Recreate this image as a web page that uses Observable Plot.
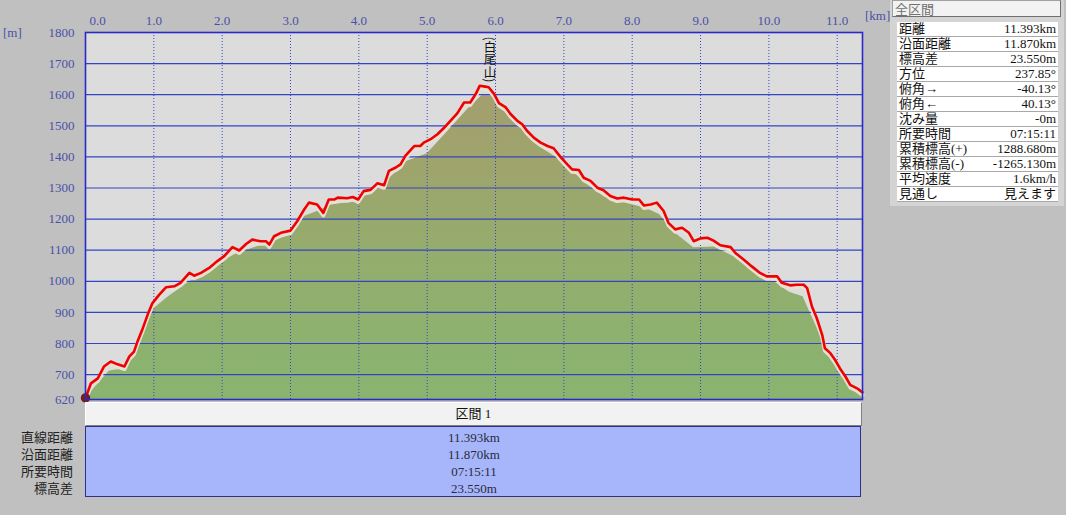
<!DOCTYPE html>
<html>
<head>
<meta charset="utf-8">
<script src="https://cdn.jsdelivr.net/npm/d3@7"></script>
<script src="https://cdn.jsdelivr.net/npm/@observablehq/plot@0.6"></script>
<style>
  html, body { margin: 0; padding: 0; }
  body { width: 1066px; height: 515px; background: #c0c0c0; position: relative; overflow: hidden;
         font-family: "Liberation Serif", "Noto Sans CJK JP", serif; }
  #chart { position: absolute; left: 0; top: 0; }
  .unit { position: absolute; color: #4a50a8; font-size: 13px; }
  #hdr { position: absolute; left: 85px; top: 402px; width: 775px; height: 22px; background: #f2f2f2;
         border-top: 1px solid #ffffff; border-left: 1px solid #ffffff; border-right: 1px solid #808080; border-bottom: 1px solid #808080;
         text-align: center; font-size: 13px; line-height: 22px; color: #111; }
  #tbl { position: absolute; left: 85px; top: 426px; width: 776px; height: 71px; background: #a7b6fb;
         border: 1px solid #30308a; box-sizing: border-box; }
  .tv { position: absolute; left: 0; width: 776px; text-align: center; font-size: 13px; color: #2a2a3a; line-height: 17px; }
  .tl { position: absolute; right: 993px; font-size: 13px; color: #222; line-height: 17px; font-family: "Noto Sans CJK JP", sans-serif; white-space: nowrap; }
  #panel { position: absolute; left: 890px; top: 0; width: 174px; height: 206px; background: #d4d4d4; }
  #ptitle { position: absolute; left: 2px; top: 0; width: 169px; height: 17px; background: #f2f2f2; border: 1px solid #a0a0a0;
            border-right-color: #707070; border-bottom-color: #707070; box-sizing: border-box;
            font-size: 13px; line-height: 15px; color: #707070; padding-left: 2px; font-family: "Noto Sans CJK JP", sans-serif; }
  #ptable { position: absolute; left: 7px; top: 22px; width: 161px; border-collapse: collapse; background: #fff; }
  #ptable td { height: 14px; padding: 0 2px; font-size: 13px; line-height: 14px; color: #111; border-bottom: 1px solid #a8a8a8; white-space: nowrap; }
  #ptable td.v { text-align: right; }
</style>
</head>
<body>
<div id="chart"></div>
<div class="unit" style="left:3px; top:25px;">[m]</div>
<div class="unit" style="left:865px; top:8px;">[km]</div>
<div id="hdr"></div>
<div id="tbl"></div>
<div id="panel"><div id="ptitle"></div><table id="ptable"></table></div>
<script>
// ---- data ----
const trackKm = [0, 0.08, 0.18, 0.27, 0.37, 0.47, 0.57, 0.64, 0.71, 0.76, 0.83, 0.91, 0.98, 1.08, 1.18, 1.30, 1.39, 1.52, 1.59, 1.69, 1.81, 1.93, 2.03, 2.15, 2.25, 2.35, 2.44, 2.56, 2.64, 2.69, 2.76, 2.86, 3.00, 3.10, 3.20, 3.27, 3.39, 3.48, 3.56, 3.64, 3.69, 3.83, 3.91, 3.99, 4.07, 4.17, 4.27, 4.37, 4.44, 4.54, 4.61, 4.68, 4.81, 4.90, 4.95, 5.05, 5.15, 5.24, 5.34, 5.44, 5.54, 5.63, 5.71, 5.77, 5.85, 5.90, 5.98, 6.05, 6.15, 6.22, 6.32, 6.39, 6.46, 6.56, 6.66, 6.76, 6.85, 6.95, 7.05, 7.12, 7.22, 7.29, 7.39, 7.49, 7.58, 7.68, 7.78, 7.88, 8.00, 8.10, 8.17, 8.27, 8.36, 8.46, 8.53, 8.63, 8.73, 8.83, 8.90, 9.00, 9.10, 9.19, 9.29, 9.44, 9.51, 9.63, 9.75, 9.87, 9.97, 10.12, 10.19, 10.31, 10.41, 10.51, 10.56, 10.63, 10.70, 10.78, 10.82, 10.90, 10.97, 11.04, 11.12, 11.19, 11.29, 11.37];
const trackElev = [625, 672, 688, 726, 742, 733, 726, 758, 774, 806, 844, 893, 930, 957, 981, 984, 995, 1027, 1018, 1027, 1043, 1065, 1081, 1110, 1099, 1120, 1134, 1129, 1129, 1118, 1145, 1156, 1163, 1194, 1231, 1253, 1247, 1220, 1263, 1263, 1269, 1267, 1271, 1263, 1290, 1294, 1315, 1309, 1355, 1366, 1376, 1403, 1435, 1435, 1446, 1457, 1473, 1492, 1516, 1540, 1575, 1575, 1602, 1629, 1626, 1624, 1602, 1573, 1559, 1538, 1516, 1505, 1484, 1462, 1446, 1435, 1428, 1400, 1376, 1360, 1358, 1333, 1323, 1301, 1293, 1274, 1266, 1269, 1263, 1263, 1244, 1247, 1253, 1226, 1188, 1167, 1172, 1156, 1129, 1138, 1140, 1131, 1116, 1110, 1091, 1070, 1048, 1027, 1016, 1016, 995, 987, 989, 989, 978, 919, 882, 828, 785, 769, 747, 720, 694, 667, 656, 643];

const terrainKm   = [0, 0.15, 0.35, 0.55, 0.75, 1.0, 1.2, 1.5, 1.8, 2.0, 2.2, 2.5, 2.8, 3.0, 3.2, 3.4, 3.6, 3.9, 4.1, 4.4, 4.7, 5.0, 5.3, 5.6, 5.8, 5.95, 6.1, 6.4, 6.7, 7.0, 7.3, 7.6, 7.9, 8.2, 8.4, 8.6, 8.9, 9.2, 9.5, 9.8, 10.1, 10.3, 10.5, 10.7, 10.9, 11.1, 11.37];
const terrainElev = [622, 662, 712, 718, 788, 912, 948, 995, 1030, 1062, 1088, 1110, 1133, 1150, 1208, 1225, 1245, 1255, 1275, 1320, 1385, 1410, 1482, 1555, 1597, 1597, 1558, 1492, 1425, 1383, 1318, 1270, 1252, 1235, 1215, 1160, 1108, 1110, 1078, 1026, 995, 965, 950, 852, 750, 684, 630];

const xTicks = [0, 1, 2, 3, 4, 5, 6, 7, 8, 9, 10, 11];
const yTicks = [620, 700, 800, 900, 1000, 1100, 1200, 1300, 1400, 1500, 1600, 1700, 1800];
const peakName = "(白尾山)";
const peakKm = 5.92;

const sectionTitle = "区間 1";
const tableLabels = ["直線距離", "沿面距離", "所要時間", "標高差"];
const tableValues = ["11.393km", "11.870km", "07:15:11", "23.550m"];

const panelTitle = "全区間";
const panelLabels = ["距離", "沿面距離", "標高差", "方位", "俯角→", "俯角←", "沈み量", "所要時間", "累積標高(+)", "累積標高(-)", "平均速度", "見通し"];
const panelValues = ["11.393km", "11.870km", "23.550m", "237.85°", "-40.13°", "40.13°", "-0m", "07:15:11", "1288.680m", "-1265.130m", "1.6km/h", "見えます"];

// ---- build ----
const track = trackKm.map((k, i) => ({km: k, elev: trackElev[i]}));
const terrain = terrainKm.map((k, i) => ({km: k, elev: terrainElev[i]}));
const axisColor = "#4a50a8";
const gridColor = "#3444c4";

const chart = Plot.plot({
  width: 1066,
  height: 412,
  marginLeft: 85,
  marginRight: 204,
  marginTop: 32,
  marginBottom: 13,
  style: {background: "transparent", fontFamily: "'Liberation Serif', 'Noto Sans CJK JP', serif", fontSize: "13px"},
  x: {domain: [0, 11.37], axis: null},
  y: {domain: [620, 1800], axis: null},
  marks: [
    Plot.frame({fill: "#dcdcdc", stroke: null}),
    Plot.areaY(terrain, {x: "km", y1: 620, y2: "elev", fill: "url(#terrainGrad)", curve: "linear"}),
    Plot.gridX(xTicks.slice(1), {stroke: gridColor, strokeOpacity: 1, strokeDasharray: "1,2"}),
    Plot.gridY(yTicks.slice(1), {stroke: gridColor, strokeOpacity: 1, strokeWidth: 1.2}),
    Plot.line(track, {x: "km", y: "elev", stroke: "#e6e0d4", strokeWidth: 4, dy: 2.5}),
    Plot.line(track, {x: "km", y: "elev", stroke: "#f00000", strokeWidth: 2.6}),
    Plot.dot(track.slice(0, 1), {x: "km", y: "elev", r: 4, fill: "#8b1414", stroke: "#5a2a2a"}),
    Plot.text([peakName], {x: peakKm, y: 1800, text: d => d, textAnchor: "start", fontSize: 12.5, fill: "#111",
               fontFamily: "'Noto Sans CJK JP', sans-serif"}),
    Plot.frame({stroke: "#2a2ac8", strokeWidth: 1.6}),
    Plot.axisY(yTicks, {anchor: "left", tickSize: 0, tickPadding: 11, color: axisColor, fontSize: 13, label: null, tickFormat: d => String(d)}),
    Plot.axisX(xTicks.slice(0, 1), {anchor: "top", tickSize: 0, tickPadding: 8, dx: 12, color: axisColor, fontSize: 13, label: null, tickFormat: d => d.toFixed(1)}),
    Plot.axisX(xTicks.slice(1), {anchor: "top", tickSize: 0, tickPadding: 8, color: axisColor, fontSize: 13, label: null, tickFormat: d => d.toFixed(1)})
  ]
});

const svg = d3.select(chart);
svg.insert("defs", ":first-child").html(
  '<linearGradient id="terrainGrad" x1="0" y1="0" x2="0" y2="1">' +
  '<stop offset="0" stop-color="#a39f6e"/>' +
  '<stop offset="0.25" stop-color="#9ea56c"/>' +
  '<stop offset="0.55" stop-color="#93ad6d"/>' +
  '<stop offset="1" stop-color="#89b46f"/>' +
  '</linearGradient>');
svg.selectAll("text").filter(function () { return this.textContent === peakName; })
  .style("writing-mode", "vertical-rl")
  .attr("dy", null);
document.getElementById("chart").appendChild(chart);

// bottom table
document.getElementById("hdr").textContent = sectionTitle;
const tbl = document.getElementById("tbl");
tableValues.forEach((v, i) => {
  const d = document.createElement("div");
  d.className = "tv"; d.style.top = (2 + i * 17) + "px"; d.textContent = v;
  tbl.appendChild(d);
});
tableLabels.forEach((l, i) => {
  const d = document.createElement("div");
  d.className = "tl"; d.style.top = (428 + i * 17) + "px"; d.textContent = l;
  document.body.appendChild(d);
});

// right panel
document.getElementById("ptitle").textContent = panelTitle;
const pt = document.getElementById("ptable");
panelLabels.forEach((l, i) => {
  const tr = document.createElement("tr");
  const a = document.createElement("td"); a.textContent = l;
  const b = document.createElement("td"); b.className = "v"; b.textContent = panelValues[i];
  tr.appendChild(a); tr.appendChild(b); pt.appendChild(tr);
});
</script>
</body>
</html>
